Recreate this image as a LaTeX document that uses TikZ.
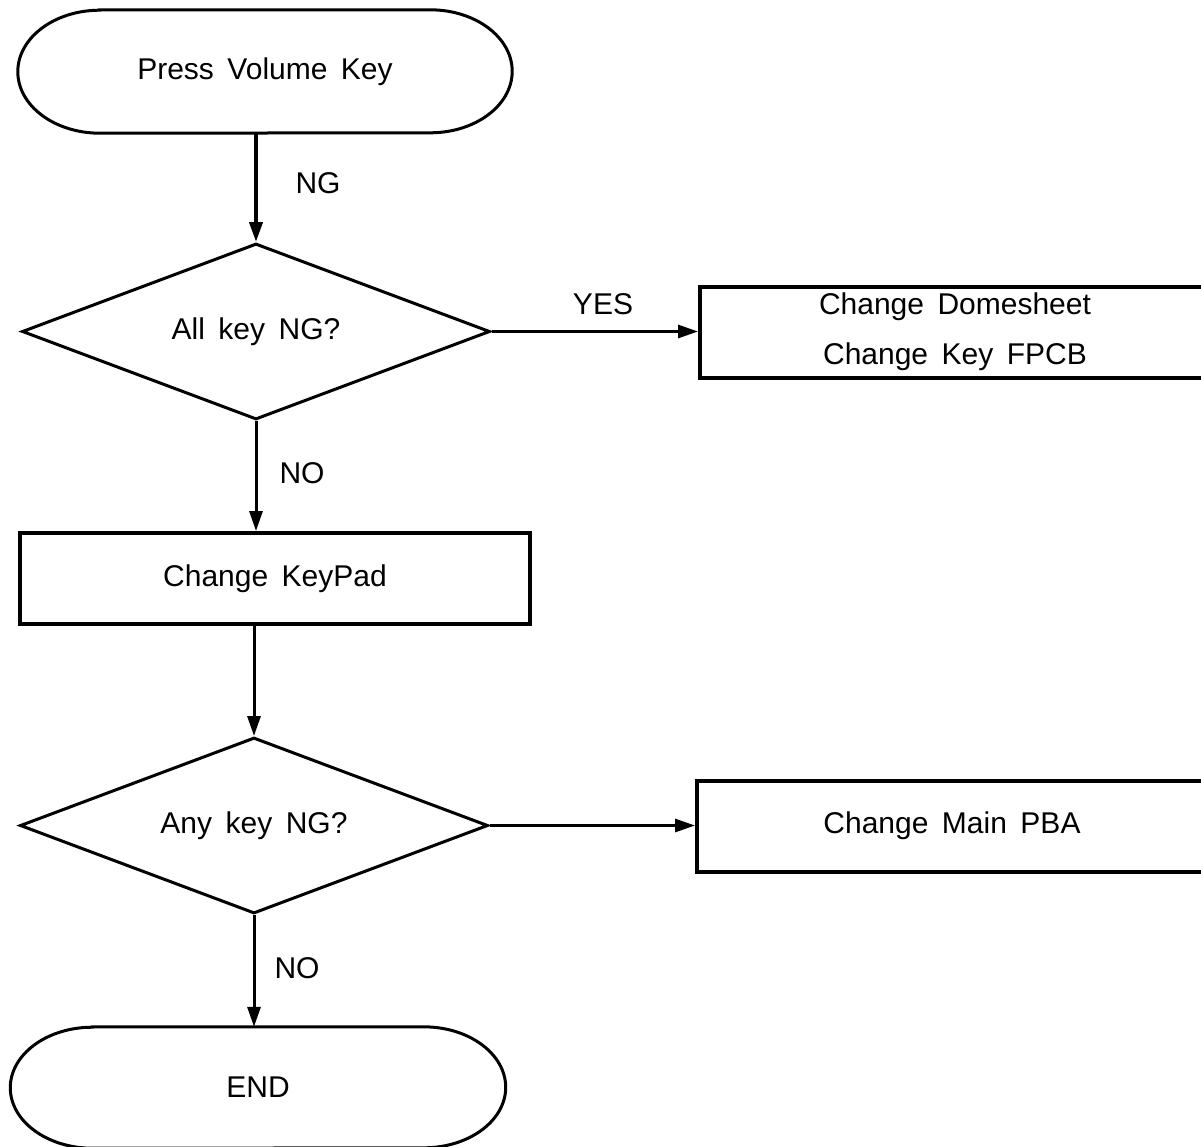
\documentclass[tikz,border=0pt]{standalone}
\usepackage{fontspec}
\setmainfont{Liberation Sans}
\usetikzlibrary{shapes.geometric,arrows.meta}
\newcommand\chartfont{\fontsize{30}{50}\selectfont\spaceskip=0.45em\relax}
\begin{document}
\begin{tikzpicture}[x=1pt,y=1pt,
  txt/.style={font=\chartfont},
  termnode/.style={txt,rectangle,inner sep=0pt},
  termline/.style={line width=3pt},
  procbox/.style={txt,rectangle,draw,line width=4pt,inner sep=0pt,minimum width=510pt,minimum height=91pt,align=center},
  decbox/.style={txt,diamond,draw,line width=3pt,inner sep=0pt,aspect=2.6,minimum width=468pt,minimum height=176pt},
  arr/.style={line width=3pt,-{Triangle[length=20pt,width=13pt]}},
  lbl/.style={txt,inner sep=0pt}
]
\useasboundingbox (0,0) rectangle (1201,-1146);

% nodes
\node[termnode,minimum width=494pt,minimum height=123pt] (start) at (265,-71.5) {Press Volume Key};
\node[decbox] (d1) at (256,-331.5) {All key NG?};
\node[procbox] (b1) at (955,-332) {Change Domesheet\\Change Key FPCB};
\node[procbox] (b2) at (275,-578.5) {Change KeyPad};
\node[decbox] (d2) at (254,-825.5) {Any key NG?};
\node[procbox] (b3) at (952,-826) {Change Main PBA};
\node[termnode,minimum width=495pt,minimum height=121pt] (stop) at (258,-1087.5) {END};

% terminal outlines
\draw[termline] ([xshift=82pt]start.north west) -- ([xshift=-82pt]start.north east)
  arc[start angle=90,end angle=-90,x radius=82pt,y radius=61.5pt]
  -- ([xshift=82pt]start.south west)
  arc[start angle=270,end angle=90,x radius=82pt,y radius=61.5pt] -- cycle;
\draw[termline] ([xshift=82pt]stop.north west) -- ([xshift=-82pt]stop.north east)
  arc[start angle=90,end angle=-90,x radius=82pt,y radius=60.5pt]
  -- ([xshift=82pt]stop.south west)
  arc[start angle=270,end angle=90,x radius=82pt,y radius=60.5pt] -- cycle;

% connectors
\draw[arr,line width=4pt] (start.south -| d1.north) -- (d1.north);
\draw[arr] (d1.east) -- (b1.west |- d1.east);
\draw[arr] (d1.south) -- (d1.south |- b2.north);
\draw[arr] (b2.south -| d2.north) -- (d2.north);
\draw[arr] (d2.east) -- (b3.west |- d2.east);
\draw[arr] (d2.south) -- (d2.south |- stop.north);

% labels
\node[lbl] (lng) at (318,-183) {NG};
\node[lbl] (lyes) at (603,-304) {YES};
\node[lbl] (lno1) at (302,-473) {NO};
\node[lbl] (lno2) at (297,-968) {NO};
\end{tikzpicture}
\end{document}
